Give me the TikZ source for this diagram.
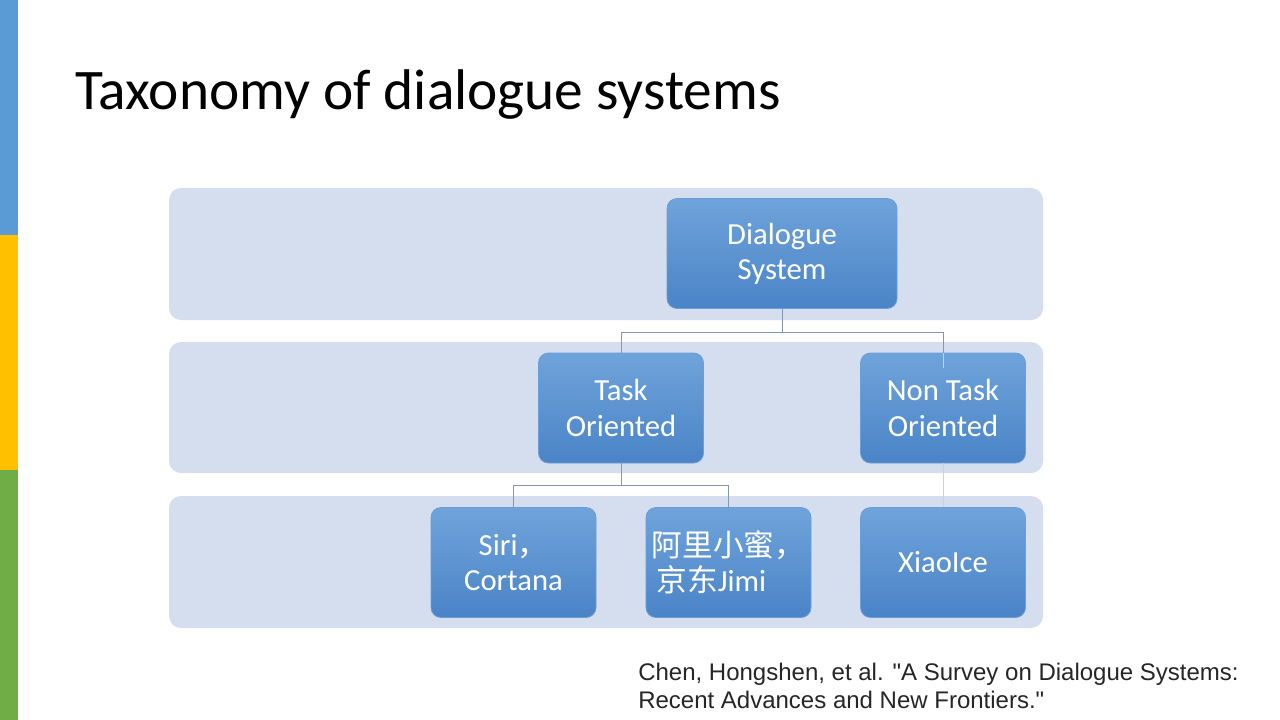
\documentclass[tikz,border=0pt]{standalone}
\usepackage{fontspec}
\setmainfont{Carlito}
\newfontfamily\cjk{Noto Sans CJK SC}
\newfontfamily\citefont{Liberation Sans}
\definecolor{barblue}{HTML}{5B9BD5}
\definecolor{baryellow}{HTML}{FFC000}
\definecolor{bargreen}{HTML}{70AD47}
\definecolor{bandcol}{HTML}{D4DEEE}
\definecolor{boxtop}{HTML}{6FA3DA}
\definecolor{boxbot}{HTML}{4A84C7}
\definecolor{boxedge}{HTML}{6A9ED8}
\definecolor{linecol}{HTML}{8497B0}
\definecolor{fainline}{HTML}{C5D2E2}
\begin{document}
\begin{tikzpicture}[x=0.75pt,y=-0.75pt,
  band/.style={fill=bandcol, rounded corners=9pt},
  box/.style={rounded corners=7.5pt, top color=boxtop, bottom color=boxbot,
    draw=boxedge, line width=0.6pt, text=white, align=center,
    font=\fontsize{23}{26.5}\selectfont, inner sep=0pt,
    minimum width=123.75pt, minimum height=82.5pt},
  conn/.style={draw=linecol, line width=0.6pt},
  fconn/.style={draw=fainline, line width=0.6pt}]
\useasboundingbox (0,0) rectangle (1280,720);
\fill[white] (0,0) rectangle (1280,720);
% left colour bar
\fill[barblue] (0,0) rectangle (18,235);
\fill[baryellow] (0,235) rectangle (18,470);
\fill[bargreen] (0,470) rectangle (18,720);
% title
\node[anchor=base west, inner sep=0pt, font=\fontsize{43}{50}\selectfont] (title) at (75,110) {Taxonomy of dialogue systems};
% bands
\fill[band] (169,188) rectangle (1043,320);
\fill[band] (169,342) rectangle (1043,473);
\fill[band] (169,496) rectangle (1043,628);
% boxes
\node[box, minimum width=172.5pt] (dlg) at (782,253.5) {Dialogue\\System};
\node[box] (task) at (621,408) {Task\\Oriented};
\node[box] (non) at (943,408) {Non Task\\Oriented};
\node[box] (siri) at (513.5,562.5) {Siri{\cjk ，}\\Cortana};
\node[box, align=left] (ali) at (728.5,562.5) {{\cjk 阿里小蜜，}\\\hspace{3.5pt}{\cjk 京东}Jimi};
\node[box] (xiao) at (943,562.5) {XiaoIce};
% connectors
\path[conn] (dlg.south) -- ++(0,23) -| (task.north);
\path[conn] (dlg.south) -- ++(0,23) -| ([yshift=-11.5]non.north);
\path[fconn] ([yshift=-11.5]non.north) -- (non.north);
\path[conn] (task.south) -- ++(0,22) -| (siri.north);
\path[conn] (task.south) -- ++(0,22) -| (ali.north);
\path[fconn] (non.south) -- (xiao.north);
% citation
\node[anchor=north west, inner sep=0pt, align=left, text=black!85,
  font=\citefont\fontsize{18}{21}\selectfont] (cite) at (638,663)
  {Chen, Hongshen, et al. "A Survey on Dialogue Systems:\\Recent Advances and New Frontiers."};
\end{tikzpicture}
\end{document}
